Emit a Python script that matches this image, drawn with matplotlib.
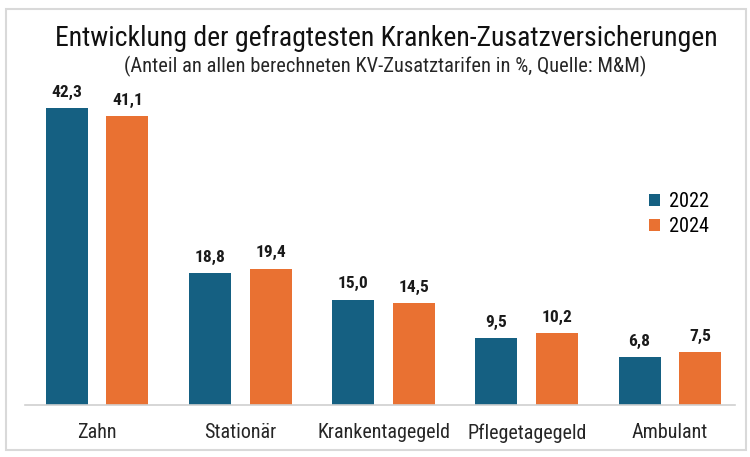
import numpy as np
import matplotlib.pyplot as plt
from matplotlib.patches import Rectangle
from matplotlib import font_manager

# Data
categories = ['Zahn', 'Stationär', 'Krankentagegeld', 'Pflegetagegeld', 'Ambulant']
values_2022 = [42.3, 18.8, 15.0, 9.5, 6.8]
values_2024 = [41.1, 19.4, 14.5, 10.2, 7.5]
series_names = ['2022', '2024']

names = {f.name for f in font_manager.fontManager.ttflist}
if 'Roboto Condensed' in names:
    plt.rcParams['font.family'] = ['Roboto Condensed', 'DejaVu Sans']
    k = 1.0
else:
    plt.rcParams['font.family'] = ['Liberation Sans', 'DejaVu Sans']
    k = 0.85

blue = '#156082'
orange = '#E97132'

fig = plt.figure(figsize=(7.5, 4.57), dpi=100)
# light grey frame around the chart
fig.patches.append(Rectangle((6 / 750, 7 / 457), 740 / 750, 441 / 457, transform=fig.transFigure,
                             fill=False, edgecolor='#d9d9d9', linewidth=1.5))

ax = fig.add_axes([25 / 750, 52 / 457, 710 / 750, 305 / 457])
x = np.arange(len(categories))
w = 0.293
b1 = ax.bar(x - 0.212, values_2022, w, color=blue, label=series_names[0])
b2 = ax.bar(x + 0.212, values_2024, w, color=orange, label=series_names[1])

for bars, vals in [(b1, values_2022), (b2, values_2024)]:
    for r, v in zip(bars, vals):
        ax.annotate(f'{v:.1f}'.replace('.', ','), (r.get_x() + r.get_width() / 2, v),
                    xytext=(0, 6), textcoords='offset points', ha='center', va='bottom',
                    fontsize=12.5 * k, fontweight='bold', color='#1a1a1a')

ax.set_xlim(-0.503, 4.454)
ax.set_ylim(0, 43.45)
ax.set_xticks(x)
ax.set_xticklabels(categories, fontsize=14.5 * k, color='#262626')
ax.tick_params(axis='x', length=0, pad=13)
ax.set_yticks([])
for s in ['top', 'right', 'left']:
    ax.spines[s].set_visible(False)
ax.spines['bottom'].set_color('#d0d0d0')
ax.spines['bottom'].set_linewidth(1.2)

leg = ax.legend(loc='upper left', bbox_to_anchor=(0.853, 0.757), frameon=False, fontsize=14.6 * k,
                handlelength=0.55, handleheight=0.55, handletextpad=0.45, labelspacing=0.3)

fig.text(0.515, 0.915, 'Entwicklung der gefragtesten Kranken-Zusatzversicherungen',
         ha='center', va='center', fontsize=20 * k, color='#111111')
fig.text(0.513, 0.855, '(Anteil an allen berechneten KV-Zusatztarifen in %, Quelle: M&M)',
         ha='center', va='center', fontsize=14.8 * k, color='#262626')

fig.savefig('out.png', dpi=100)
